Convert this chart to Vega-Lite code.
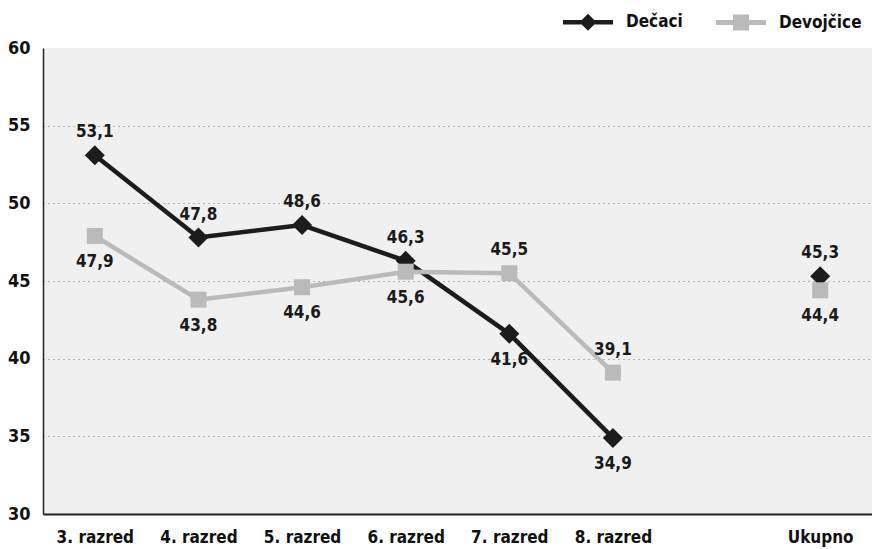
{
  "$schema": "https://vega.github.io/schema/vega-lite/v6.json",
  "width": 829,
  "height": 466,
  "autosize": "none",
  "padding": {"left": 43, "top": 48, "right": 0, "bottom": 35},
  "background": "white",
  "config": {
    "locale": {"number": {"decimal": ",", "thousands": ".", "grouping": [3], "currency": ["", ""]}},
    "view": {"stroke": null, "fill": "#f0f0f0"},
    "font": "Liberation Sans Narrow, DejaVu Sans Condensed, sans-serif"
  },
  "data": {
    "values": [
      {"razred": "3. razred", "g": "Dečaci", "v": 53.1},
      {"razred": "4. razred", "g": "Dečaci", "v": 47.8},
      {"razred": "5. razred", "g": "Dečaci", "v": 48.6},
      {"razred": "6. razred", "g": "Dečaci", "v": 46.3},
      {"razred": "7. razred", "g": "Dečaci", "v": 41.6},
      {"razred": "8. razred", "g": "Dečaci", "v": 34.9},
      {"razred": "Ukupno", "g": "Dečaci", "v": 45.3},
      {"razred": "3. razred", "g": "Devojčice", "v": 47.9},
      {"razred": "4. razred", "g": "Devojčice", "v": 43.8},
      {"razred": "5. razred", "g": "Devojčice", "v": 44.6},
      {"razred": "6. razred", "g": "Devojčice", "v": 45.6},
      {"razred": "7. razred", "g": "Devojčice", "v": 45.5},
      {"razred": "8. razred", "g": "Devojčice", "v": 39.1},
      {"razred": "Ukupno", "g": "Devojčice", "v": 44.4}
    ]
  },
  "encoding": {
    "x": {
      "field": "razred", "type": "nominal",
      "scale": {"type": "point", "domain": ["3. razred", "4. razred", "5. razred", "6. razred", "7. razred", "8. razred", "", "Ukupno"], "padding": 0.5},
      "axis": {"title": null, "labelAngle": 0, "ticks": false, "grid": false, "domain": true, "domainColor": "#222222", "domainWidth": 2, "labelPadding": 15, "labelFontSize": 17, "labelFontWeight": "bold", "labelColor": "#111111"}
    },
    "y": {
      "field": "v", "type": "quantitative",
      "scale": {"domain": [30, 60], "nice": false, "zero": false},
      "axis": {"title": null, "values": [30, 35, 40, 45, 50, 55, 60], "ticks": false, "grid": true, "gridDash": [1, 4], "gridColor": "#777777", "gridOpacity": {"condition": {"test": "datum.value == 60", "value": 0}, "value": 1}, "domain": true, "domainColor": "#222222", "domainWidth": 1.5, "labelPadding": 13, "labelFontSize": 18, "labelFontWeight": "bold", "labelColor": "#111111"}
    },
    "color": {
      "field": "g", "type": "nominal",
      "scale": {"domain": ["Dečaci", "Devojčice"], "range": ["#1c1c1c", "#bababa"]},
      "legend": {
        "title": null, "orient": "none", "direction": "horizontal", "legendX": 520, "legendY": -51,
        "padding": 0, "symbolSize": 2500, "labelOffset": 13, "columnPadding": 33,
        "labelFontSize": 17, "labelFontWeight": "bold", "labelColor": "#111111",
        "encode": {
          "symbols": {
            "update": {
              "shape": {"signal": "datum.value === 'Dečaci' ? 'M-1,-0.09H1V0.09H-1Z M0,-0.34L0.34,0L0,0.34L-0.34,0Z' : 'M-1,-0.1H1V0.1H-1Z M-0.32,-0.32H0.32V0.32H-0.32Z'"},
              "fill": {"scale": "color", "field": "value"},
              "strokeWidth": {"value": 0},
              "opacity": {"value": 1}
            }
          }
        }
      }
    }
  },
  "layer": [
    {
      "transform": [{"filter": "datum.g === 'Dečaci' && datum.razred !== 'Ukupno'"}],
      "mark": {"type": "line", "strokeWidth": 4.5}
    },
    {
      "transform": [{"filter": "datum.g === 'Dečaci'"}],
      "mark": {"type": "point", "shape": "diamond", "filled": true, "size": 400, "opacity": 1}
    },
    {
      "transform": [{"filter": "datum.g === 'Devojčice' && datum.razred !== 'Ukupno'"}],
      "mark": {"type": "line", "strokeWidth": 4.5}
    },
    {
      "transform": [{"filter": "datum.g === 'Devojčice'"}],
      "mark": {"type": "point", "shape": "square", "filled": true, "size": 256, "opacity": 1}
    },
    {
      "transform": [{"filter": "(datum.g === 'Dečaci') === (datum.razred !== '7. razred' && datum.razred !== '8. razred')"}],
      "mark": {"type": "text", "dy": -23, "baseline": "middle", "fontSize": 17, "fontWeight": "bold", "color": "#1a1a1a"},
      "encoding": {"text": {"field": "v", "type": "quantitative", "format": ".1f"}, "color": {"value": "#1a1a1a"}}
    },
    {
      "transform": [{"filter": "(datum.g === 'Dečaci') !== (datum.razred !== '7. razred' && datum.razred !== '8. razred')"}],
      "mark": {"type": "text", "dy": 26, "baseline": "middle", "fontSize": 17, "fontWeight": "bold", "color": "#1a1a1a"},
      "encoding": {"text": {"field": "v", "type": "quantitative", "format": ".1f"}, "color": {"value": "#1a1a1a"}}
    }
  ]
}
